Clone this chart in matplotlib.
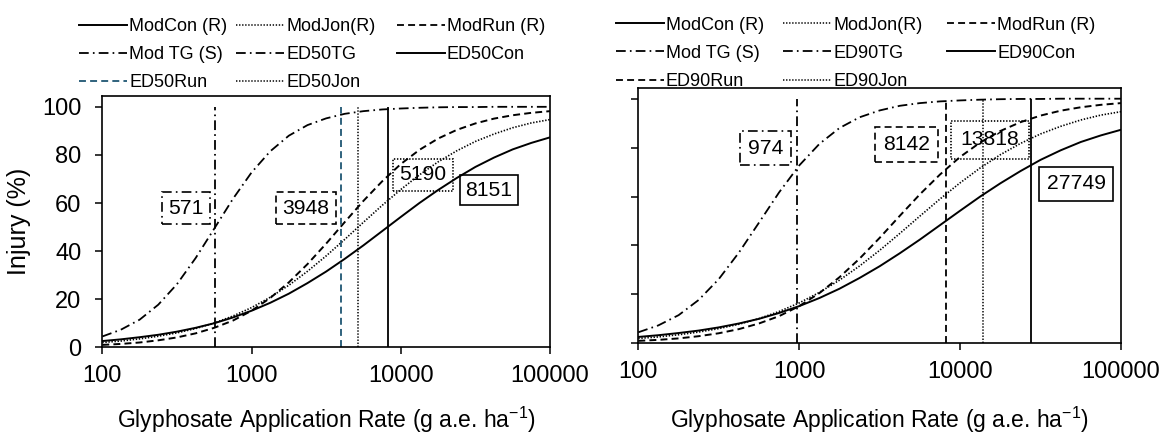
# Dose-response curves for glyphosate, ED50 (left) and ED90 (right) panels.

import matplotlib
matplotlib.use("Agg")

import matplotlib.pyplot as plt
from matplotlib.lines import Line2D
from matplotlib.ticker import NullLocator

# application rates (g a.e. ha-1) where the curves were read
rates = [100, 133, 178, 237, 316, 422, 562, 750, 1000, 1334, 1778, 2371, 3162,
         4217, 5623, 7499, 10000, 13335, 17783, 23714, 31623, 42170, 56234, 74989, 100000]

# injury (%)
injuryCon = [2.6, 3.3, 4.2, 5.2, 6.5, 8.1, 10.0, 12.4, 15.2, 18.5, 22.3, 26.7, 31.5,
             36.8, 42.4, 48.3, 54.2, 60.0, 65.4, 70.4, 75.0, 78.9, 82.3, 85.0, 87.3]
injuryJon = [2.0, 2.6, 3.5, 4.6, 6.0, 7.8, 10.1, 13.0, 16.5, 20.8, 25.8, 31.6, 38.0,
             44.9, 52.0, 59.0, 65.6, 71.7, 77.1, 81.7, 85.6, 88.7, 91.3, 93.3, 94.7]
injuryRun = [1.0, 1.4, 2.0, 2.9, 4.1, 5.8, 8.1, 11.1, 15.2, 20.5, 27.0, 34.6, 43.1,
             52.1, 60.9, 69.0, 76.2, 82.1, 86.8, 90.4, 93.1, 95.1, 96.5, 97.5, 98.2]
injuryTG = [4.5, 7.3, 11.5, 17.7, 26.2, 37.1, 49.3, 61.7, 72.7, 81.5, 88.0, 92.4, 95.2,
            97.1, 98.2, 98.9, 99.3, 99.6, 99.8, 99.9, 99.9, 100.0, 100.0, 100.0, 100.0]

curveNames = ["ModCon (R)", "ModJon(R)", "ModRun (R)", "Mod TG (S)"]

# effective doses, order: TG, Run, Jon, Con
ed50Values = [571, 3948, 5190, 8151]
ed90Values = [974, 8142, 13818, 27749]
ed50Names = ["ED50TG", "ED50Run", "ED50Jon", "ED50Con"]
ed90Names = ["ED90TG", "ED90Run", "ED90Jon", "ED90Con"]

tickRates = [100, 1000, 10000, 100000]
tickLabels = ["100", "1000", "10000", "100000"]
injuryTicks = [0, 20, 40, 60, 80, 100]

# where the value boxes sit (data coords) and how much room they have
ed50Spots = [(363, 57.9), (2320, 57.9), (14090, 71.7), (39000, 65.4)]
ed90Spots = [(617, 79.8), (4660, 81.3), (15350, 83.2), (52700, 65.2)]
ed50BoxPads = [0.3, 0.3, 0.32, 0.27]
ed90BoxPads = [0.35, 0.38, 0.45, 0.35]

plt.rcParams["font.family"] = ["Liberation Sans", "DejaVu Sans"]
plt.rcParams["mathtext.fontset"] = "custom"
plt.rcParams["mathtext.rm"] = "Liberation Sans"
plt.rcParams["mathtext.default"] = "regular"
plt.rcParams["lines.scale_dashes"] = False

tickSize = 17
labelSize = 16.5
legendSize = 13
boxSize = 15.2

solid = "-"
dotted = (0, (1.0, 1.2))
dashed = (0, (5, 3))
dashDot = (0, (7, 3, 1.2, 3))
runBlue = "#1f5673"


def drawPanel(ax, edValues, edSpots, boxPads, runColor):
    # four model curves
    ax.plot(rates, injuryCon, color="black", linestyle=solid, linewidth=1.4)
    ax.plot(rates, injuryJon, color="black", linestyle=dotted, linewidth=1.2)
    ax.plot(rates, injuryRun, color="black", linestyle=dashed, linewidth=1.4)
    ax.plot(rates, injuryTG, color="black", linestyle=dashDot, linewidth=1.3)

    # vertical marks at the effective doses + boxed values
    styles = [dashDot, dashed, dotted, solid]
    colors = ["black", runColor, "black", "black"]
    widths = [1.3, 1.3, 1.1, 1.3]
    for value, spot, pad, ls, col, lw in zip(edValues, edSpots, boxPads, styles, colors, widths):
        ax.vlines(value, 0, 100, colors=col, linestyles=[ls], linewidth=lw)
        ax.text(spot[0], spot[1], str(value), ha="center", va="center", fontsize=boxSize,
                bbox=dict(boxstyle="square,pad=" + str(pad), facecolor="none",
                          edgecolor="black", linestyle=ls, linewidth=1.2))

    ax.set_xscale("log")
    ax.set_xlim(100, 100000)
    ax.set_ylim(0, 104.5)
    ax.set_xticks(tickRates)
    ax.set_xticklabels(tickLabels)
    ax.xaxis.set_minor_locator(NullLocator())
    ax.set_yticks(injuryTicks)
    ax.tick_params(direction="out", length=5, width=1.1, labelsize=tickSize)
    ax.tick_params(axis="x", pad=7.5)
    ax.tick_params(axis="y", pad=10)
    for spine in ax.spines.values():
        spine.set_linewidth(1.2)
    ax.set_xlabel(r"Glyphosate Application Rate (g a.e. ha$^{-1}$)", fontsize=labelSize)


def makeHandle(ls, color="black", lw=1.3):
    return Line2D([], [], color=color, linestyle=ls, linewidth=lw)


def drawLegendColumns(fig, columns, xs, top):
    # one single-column legend per column so each sits where it should
    for (handles, labels), x in zip(columns, xs):
        fig.legend(handles, labels, loc="upper left", bbox_to_anchor=(x / 1169, 1 - top / 434),
                   frameon=False, fontsize=legendSize, borderpad=0, borderaxespad=0,
                   handlelength=2.65, handletextpad=0.12, labelspacing=0.62)


fig = plt.figure(figsize=(11.69, 4.34), dpi=100)
axLeft = fig.add_axes([0.08751, 0.19977, 0.38298, 0.57903])
axRight = fig.add_axes([0.54602, 0.20899, 0.41292, 0.58894])

drawPanel(axLeft, ed50Values, ed50Spots, ed50BoxPads, runBlue)
drawPanel(axRight, ed90Values, ed90Spots, ed90BoxPads, "black")

axLeft.set_ylabel("Injury (%)", fontsize=18)
axLeft.yaxis.set_label_coords(-0.16, 0.5)
axLeft.xaxis.set_label_coords(0.5, -0.2296)
axRight.tick_params(axis="y", labelleft=False)
axRight.xaxis.set_label_coords(0.5, -0.2414)

# legends: curves first, then the dose lines
for names, runColor, xs, top in [(ed50Names, runBlue, [79.4, 236, 396.8], 18),
                                 (ed90Names, "black", [615.7, 783, 947], 16.5)]:
    columns = [
        ([makeHandle(solid, lw=1.4), makeHandle(dashDot), makeHandle(dashed, runColor)],
         [curveNames[0], curveNames[3], names[1]]),
        ([makeHandle(dotted, lw=1.1), makeHandle(dashDot), makeHandle(dotted, lw=1.1)],
         [curveNames[1], names[0], names[2]]),
        ([makeHandle(dashed), makeHandle(solid, lw=1.4)],
         [curveNames[2], names[3]]),
    ]
    drawLegendColumns(fig, columns, xs, top)

fig.savefig("out.png", dpi=100)
plt.close(fig)
print("Saved figure: out.png")
